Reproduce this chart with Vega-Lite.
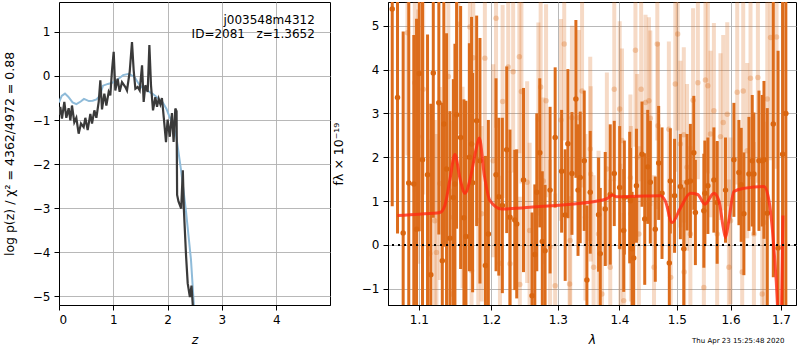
{
"$schema": "https://vega.github.io/schema/vega-lite/v6.json",
"background": "white",
"padding": {"left": 2, "top": 1, "right": 1, "bottom": 2},
"spacing": 58,
"bounds": "flush",
"config": {
 "view": {"stroke": "black", "strokeWidth": 1},
 "font": "DejaVu Sans",
 "axis": {"domainColor": "black", "tickColor": "black", "tickSize": 5, "labelPadding": 4, "labelFont": "DejaVu Sans", "labelFontSize": 12, "labelColor": "black", "titleFont": "DejaVu Sans", "titleFontSize": 12.5, "titleFontWeight": "normal", "titleColor": "black", "gridColor": "#b0b0b0", "gridWidth": 0.9, "grid": true}
},
"datasets": {
 "pz": [
  {"z":0.000,"logp":-0.88},{"z":0.024,"logp":-0.70},{"z":0.055,"logp":-0.97},{"z":0.098,"logp":-0.59},{"z":0.135,"logp":-0.95},{"z":0.178,"logp":-0.73},{"z":0.209,"logp":-1.01},{"z":0.239,"logp":-0.67},{"z":0.282,"logp":-1.05},{"z":0.319,"logp":-0.95},{"z":0.362,"logp":-1.31},{"z":0.405,"logp":-1.08},{"z":0.454,"logp":-1.16},{"z":0.485,"logp":-0.95},{"z":0.528,"logp":-1.23},{"z":0.577,"logp":-0.86},{"z":0.608,"logp":-1.08},{"z":0.651,"logp":-0.78},{"z":0.688,"logp":-0.95},{"z":0.731,"logp":-0.59},{"z":0.761,"logp":-0.10},{"z":0.792,"logp":-0.76},{"z":0.835,"logp":-0.40},{"z":0.872,"logp":-0.67},{"z":0.915,"logp":-0.36},{"z":0.945,"logp":-0.44},{"z":0.976,"logp":0.13},{"z":1.007,"logp":0.55},{"z":1.037,"logp":-0.33},{"z":1.080,"logp":-0.06},{"z":1.117,"logp":-0.36},{"z":1.160,"logp":-0.14},{"z":1.222,"logp":-0.25},{"z":1.252,"logp":-0.33},{"z":1.302,"logp":0.10},{"z":1.344,"logp":0.77},{"z":1.375,"logp":0.13},{"z":1.406,"logp":-0.29},{"z":1.449,"logp":-0.25},{"z":1.486,"logp":-0.33},{"z":1.529,"logp":0.24},{"z":1.559,"logp":-0.59},{"z":1.590,"logp":-0.21},{"z":1.633,"logp":-0.36},{"z":1.664,"logp":0.70},{"z":1.694,"logp":-0.21},{"z":1.731,"logp":-0.78},{"z":1.774,"logp":-0.48},{"z":1.805,"logp":-0.70},{"z":1.836,"logp":-0.52},{"z":1.866,"logp":-0.64},{"z":1.895,"logp":-0.50},{"z":1.930,"logp":-0.95},{"z":1.970,"logp":-1.50},{"z":2.000,"logp":-0.99},{"z":2.040,"logp":-1.38},{"z":2.080,"logp":-0.84},{"z":2.110,"logp":-1.50},{"z":2.142,"logp":-0.74},{"z":2.165,"logp":-0.80},{"z":2.175,"logp":-2.70},{"z":2.200,"logp":-2.85},{"z":2.250,"logp":-3.01},{"z":2.280,"logp":-2.14},{"z":2.300,"logp":-3.05},{"z":2.340,"logp":-4.09},{"z":2.370,"logp":-4.71},{"z":2.410,"logp":-5.02},{"z":2.440,"logp":-4.76},{"z":2.470,"logp":-5.33},{"z":2.520,"logp":-6.20}
 ],
 "pz_smooth": [
  {"z":0.00,"logp":-0.60},{"z":0.05,"logp":-0.45},{"z":0.11,"logp":-0.40},{"z":0.17,"logp":-0.47},{"z":0.25,"logp":-0.60},{"z":0.32,"logp":-0.64},{"z":0.40,"logp":-0.58},{"z":0.46,"logp":-0.52},{"z":0.55,"logp":-0.57},{"z":0.62,"logp":-0.56},{"z":0.69,"logp":-0.53},{"z":0.75,"logp":-0.45},{"z":0.81,"logp":-0.22},{"z":0.90,"logp":-0.18},{"z":0.97,"logp":-0.16},{"z":1.08,"logp":-0.08},{"z":1.18,"logp":0.02},{"z":1.29,"logp":0.05},{"z":1.39,"logp":-0.02},{"z":1.47,"logp":-0.18},{"z":1.55,"logp":-0.29},{"z":1.65,"logp":-0.35},{"z":1.73,"logp":-0.41},{"z":1.82,"logp":-0.50},{"z":1.91,"logp":-0.60},{"z":1.98,"logp":-0.75},{"z":2.03,"logp":-0.91},{"z":2.10,"logp":-1.10},{"z":2.16,"logp":-1.38},{"z":2.25,"logp":-2.16},{"z":2.34,"logp":-3.09},{"z":2.43,"logp":-4.17},{"z":2.49,"logp":-5.33},{"z":2.52,"logp":-5.70}
 ],
 "dark": [
  {"w":1.0654,"f":5.38,"e":4.5},{"w":1.0722,"f":3.36,"e":3.1},{"w":1.0795,"f":0.27,"e":4.6},{"w":1.0868,"f":1.41,"e":4.2},{"w":1.0934,"f":1.39,"e":3.4},{"w":1.0970,"f":0.36,"e":4.8},{"w":1.1005,"f":3.91,"e":3.6},{"w":1.1049,"f":1.94,"e":4.0},{"w":1.1116,"f":1.60,"e":3.2},{"w":1.1160,"f":-0.68,"e":3.9},{"w":1.1193,"f":3.92,"e":3.3},{"w":1.1268,"f":3.24,"e":3.0},{"w":1.1315,"f":-0.36,"e":3.6},{"w":1.1336,"f":2.76,"e":2.8},{"w":1.1373,"f":1.73,"e":3.1},{"w":1.1419,"f":0.15,"e":2.9},{"w":1.1466,"f":1.08,"e":2.7},{"w":1.1488,"f":1.39,"e":3.2},{"w":1.1511,"f":2.97,"e":2.6},{"w":1.1567,"f":2.45,"e":3.0},{"w":1.1613,"f":0.62,"e":2.7},{"w":1.1641,"f":0.19,"e":3.1},{"w":1.1689,"f":2.00,"e":2.6},{"w":1.1720,"f":2.30,"e":2.9},{"w":1.1735,"f":1.42,"e":2.5},{"w":1.1792,"f":2.83,"e":2.4},{"w":1.1839,"f":1.92,"e":2.8},{"w":1.1917,"f":-0.47,"e":2.5},{"w":1.1959,"f":0.25,"e":2.6},{"w":1.2070,"f":1.60,"e":2.2},{"w":1.2110,"f":1.10,"e":1.8},{"w":1.2162,"f":0.90,"e":2.0},{"w":1.2226,"f":2.17,"e":1.9},{"w":1.2274,"f":0.63,"e":2.0},{"w":1.2345,"f":0.57,"e":1.6},{"w":1.2374,"f":0.48,"e":1.7},{"w":1.2475,"f":1.48,"e":2.1},{"w":1.2604,"f":-1.16,"e":1.9},{"w":1.2646,"f":-0.22,"e":1.6},{"w":1.2676,"f":1.20,"e":1.8},{"w":1.2722,"f":2.10,"e":1.7},{"w":1.2760,"f":0.08,"e":1.6},{"w":1.2803,"f":-0.13,"e":1.5},{"w":1.2880,"f":1.25,"e":1.9},{"w":1.2959,"f":2.45,"e":1.6},{"w":1.3060,"f":1.68,"e":1.4},{"w":1.3116,"f":0.68,"e":1.5},{"w":1.3159,"f":2.31,"e":1.7},{"w":1.3223,"f":1.63,"e":1.4},{"w":1.3286,"f":3.33,"e":1.8},{"w":1.3320,"f":1.25,"e":1.5},{"w":1.3355,"f":1.54,"e":1.5},{"w":1.3420,"f":1.92,"e":1.6},{"w":1.3463,"f":-0.80,"e":1.7},{"w":1.3517,"f":1.20,"e":1.4},{"w":1.3653,"f":0.69,"e":1.3},{"w":1.3681,"f":-0.20,"e":1.5},{"w":1.3763,"f":0.82,"e":1.3},{"w":1.3846,"f":1.15,"e":1.6},{"w":1.3913,"f":1.63,"e":1.2},{"w":1.4004,"f":1.31,"e":1.4},{"w":1.4072,"f":0.33,"e":1.4},{"w":1.4083,"f":1.08,"e":1.3},{"w":1.4174,"f":1.08,"e":1.5},{"w":1.4186,"f":1.01,"e":1.2},{"w":1.4214,"f":-0.09,"e":1.3},{"w":1.4242,"f":-0.30,"e":1.4},{"w":1.4289,"f":1.35,"e":1.3},{"w":1.4385,"f":2.07,"e":1.2},{"w":1.4432,"f":0.59,"e":1.5},{"w":1.4484,"f":1.78,"e":1.3},{"w":1.4529,"f":1.43,"e":1.4},{"w":1.4616,"f":0.36,"e":1.2},{"w":1.4676,"f":1.87,"e":1.3},{"w":1.4735,"f":1.18,"e":1.5},{"w":1.4865,"f":-0.41,"e":1.3},{"w":1.4883,"f":1.46,"e":1.2},{"w":1.4959,"f":1.12,"e":1.3},{"w":1.5064,"f":1.33,"e":1.2},{"w":1.5126,"f":-0.09,"e":1.4},{"w":1.5185,"f":1.43,"e":1.1},{"w":1.5246,"f":1.46,"e":1.3},{"w":1.5309,"f":2.10,"e":1.3},{"w":1.5338,"f":0.74,"e":1.2},{"w":1.5495,"f":0.78,"e":1.3},{"w":1.5514,"f":1.18,"e":1.2},{"w":1.5570,"f":1.35,"e":1.1},{"w":1.5683,"f":1.48,"e":1.2},{"w":1.5745,"f":0.97,"e":1.4},{"w":1.5904,"f":1.25,"e":1.2},{"w":1.6065,"f":1.94,"e":1.3},{"w":1.6162,"f":1.65,"e":1.2},{"w":1.6207,"f":1.37,"e":1.3},{"w":1.6259,"f":0.71,"e":1.4},{"w":1.6358,"f":1.62,"e":1.3},{"w":1.6423,"f":1.92,"e":1.5},{"w":1.6456,"f":1.62,"e":1.4},{"w":1.6556,"f":1.92,"e":1.6},{"w":1.6621,"f":1.92,"e":1.5},{"w":1.6656,"f":1.94,"e":1.8},{"w":1.6723,"f":0.72,"e":2.4},{"w":1.6844,"f":2.76,"e":3.5},{"w":1.6941,"f":-0.07,"e":4.5},{"w":1.7034,"f":2.07,"e":4.0},{"w":1.7100,"f":3.00,"e":5.0}
 ],
 "light": [
  {"w":1.0851,"f":4.84,"e":2.8},{"w":1.0947,"f":3.70,"e":2.5},{"w":1.0992,"f":2.47,"e":2.9},{"w":1.1058,"f":3.55,"e":2.4},{"w":1.1146,"f":-0.20,"e":2.6},{"w":1.1213,"f":0.55,"e":2.3},{"w":1.1236,"f":-0.17,"e":2.7},{"w":1.1282,"f":1.40,"e":2.2},{"w":1.1397,"f":3.84,"e":2.6},{"w":1.1442,"f":-1.12,"e":2.4},{"w":1.1466,"f":0.63,"e":2.2},{"w":1.1535,"f":5.03,"e":2.5},{"w":1.1594,"f":1.31,"e":2.3},{"w":1.1696,"f":4.97,"e":2.6},{"w":1.1720,"f":-0.59,"e":2.1},{"w":1.1744,"f":4.27,"e":2.4},{"w":1.1815,"f":0.55,"e":2.2},{"w":1.1862,"f":0.71,"e":2.0},{"w":1.1909,"f":4.26,"e":2.3},{"w":1.2029,"f":1.92,"e":2.2},{"w":1.2070,"f":5.17,"e":2.5},{"w":1.2127,"f":-0.42,"e":2.0},{"w":1.2166,"f":3.27,"e":2.2},{"w":1.2248,"f":4.06,"e":2.4},{"w":1.2274,"f":-0.43,"e":2.1},{"w":1.2321,"f":3.95,"e":2.3},{"w":1.2413,"f":4.29,"e":2.2},{"w":1.2420,"f":-0.90,"e":2.0},{"w":1.2444,"f":3.50,"e":2.1},{"w":1.2530,"f":1.43,"e":2.3},{"w":1.2567,"f":0.33,"e":2.0},{"w":1.2700,"f":2.87,"e":2.2},{"w":1.2735,"f":3.60,"e":2.1},{"w":1.2776,"f":1.46,"e":1.9},{"w":1.2818,"f":3.29,"e":2.2},{"w":1.2880,"f":-0.05,"e":2.0},{"w":1.2959,"f":-0.93,"e":2.1},{"w":1.3049,"f":2.85,"e":2.3},{"w":1.3101,"f":4.58,"e":2.2},{"w":1.3186,"f":-0.89,"e":2.0},{"w":1.3196,"f":0.10,"e":1.9},{"w":1.3223,"f":2.90,"e":2.1},{"w":1.3332,"f":2.90,"e":2.0},{"w":1.3385,"f":3.51,"e":2.2},{"w":1.3439,"f":0.63,"e":1.9},{"w":1.3517,"f":2.19,"e":2.1},{"w":1.3525,"f":1.62,"e":2.0},{"w":1.3572,"f":-0.51,"e":2.1},{"w":1.3653,"f":0.25,"e":1.9},{"w":1.3708,"f":-1.12,"e":2.0},{"w":1.3790,"f":1.73,"e":2.2},{"w":1.3846,"f":-0.51,"e":2.0},{"w":1.3913,"f":3.55,"e":2.1},{"w":1.4004,"f":3.10,"e":2.0},{"w":1.4015,"f":-0.05,"e":1.9},{"w":1.4043,"f":2.38,"e":2.1},{"w":1.4072,"f":-1.27,"e":2.0},{"w":1.4186,"f":1.53,"e":1.9},{"w":1.4195,"f":0.71,"e":2.0},{"w":1.4272,"f":4.44,"e":2.2},{"w":1.4301,"f":2.00,"e":1.9},{"w":1.4331,"f":0.25,"e":2.0},{"w":1.4370,"f":3.55,"e":2.1},{"w":1.4446,"f":3.25,"e":2.0},{"w":1.4505,"f":3.29,"e":1.9},{"w":1.4529,"f":2.89,"e":2.0},{"w":1.4594,"f":-0.51,"e":2.1},{"w":1.4652,"f":4.58,"e":2.2},{"w":1.4664,"f":2.72,"e":1.9},{"w":1.4857,"f":2.64,"e":2.0},{"w":1.4890,"f":-0.74,"e":2.1},{"w":1.4972,"f":3.67,"e":2.0},{"w":1.5015,"f":4.81,"e":2.2},{"w":1.5064,"f":2.30,"e":1.9},{"w":1.5126,"f":2.51,"e":2.0},{"w":1.5132,"f":-0.62,"e":2.1},{"w":1.5185,"f":1.77,"e":1.9},{"w":1.5246,"f":0.25,"e":2.0},{"w":1.5296,"f":3.30,"e":2.1},{"w":1.5384,"f":3.70,"e":2.2},{"w":1.5495,"f":-0.97,"e":2.0},{"w":1.5525,"f":3.76,"e":2.1},{"w":1.5570,"f":3.63,"e":2.0},{"w":1.5619,"f":2.53,"e":1.9},{"w":1.5683,"f":3.06,"e":2.0},{"w":1.5745,"f":0.25,"e":2.1},{"w":1.5808,"f":2.47,"e":1.9},{"w":1.5860,"f":2.79,"e":2.0},{"w":1.5937,"f":2.98,"e":2.1},{"w":1.5969,"f":-0.51,"e":2.0},{"w":1.6000,"f":0.55,"e":1.9},{"w":1.6129,"f":3.48,"e":2.1},{"w":1.6226,"f":-0.62,"e":2.0},{"w":1.6246,"f":3.51,"e":2.2},{"w":1.6324,"f":2.15,"e":2.0},{"w":1.6389,"f":3.80,"e":2.3},{"w":1.6456,"f":0.25,"e":2.1},{"w":1.6535,"f":3.82,"e":2.4},{"w":1.6621,"f":-1.12,"e":2.2},{"w":1.6656,"f":0.51,"e":2.3},{"w":1.6723,"f":3.33,"e":2.6},{"w":1.6789,"f":4.73,"e":2.8},{"w":1.6910,"f":4.74,"e":3.0}
 ],
 "model": [
  {"w":1.0722,"m":0.67},{"w":1.1000,"m":0.70},{"w":1.1282,"m":0.74},{"w":1.1350,"m":0.90},{"w":1.1420,"m":1.50},{"w":1.1488,"m":2.06},{"w":1.1560,"m":1.50},{"w":1.1627,"m":1.18},{"w":1.1700,"m":1.50},{"w":1.1780,"m":2.15},{"w":1.1830,"m":2.44},{"w":1.1900,"m":1.60},{"w":1.1982,"m":1.01},{"w":1.2152,"m":0.82},{"w":1.2676,"m":0.87},{"w":1.3200,"m":0.93},{"w":1.3737,"m":1.03},{"w":1.3820,"m":1.08},{"w":1.3875,"m":1.14},{"w":1.3950,"m":1.10},{"w":1.4300,"m":1.11},{"w":1.4706,"m":1.12},{"w":1.4794,"m":1.00},{"w":1.4914,"m":0.51},{"w":1.5064,"m":0.84},{"w":1.5246,"m":1.18},{"w":1.5380,"m":1.15},{"w":1.5514,"m":0.93},{"w":1.5683,"m":1.18},{"w":1.5780,"m":1.00},{"w":1.5860,"m":0.40},{"w":1.5904,"m":0.17},{"w":1.5960,"m":0.50},{"w":1.6065,"m":1.22},{"w":1.6250,"m":1.29},{"w":1.6656,"m":1.33},{"w":1.6758,"m":1.00},{"w":1.6860,"m":-0.13},{"w":1.6927,"m":-1.34},{"w":1.6970,"m":-2.80},{"w":1.7010,"m":-1.50},{"w":1.7040,"m":0.67}
 ]
},
"hconcat": [
 {
  "width": 271, "height": 303,
  "layer": [
   {"data": {"name": "pz_smooth"},
    "mark": {"type": "line", "color": "#8fbbd9", "strokeWidth": 2, "clip": true},
    "encoding": {
     "x": {"field": "z", "type": "quantitative", "scale": {"domain": [0, 4.99], "nice": false, "zero": false}, "axis": {"values": [0,1,2,3,4], "title": "z", "titleFontStyle": "italic", "titlePadding": 8}},
     "y": {"field": "logp", "type": "quantitative", "scale": {"domain": [-5.2, 1.68], "nice": false, "zero": false}, "axis": {"values": [-5,-4,-3,-2,-1,0,1], "title": "log p(z) / χ² = 4362/4972 = 0.88", "titlePadding": 16}}
    }},
   {"data": {"name": "pz"},
    "mark": {"type": "line", "color": "#3a3a3a", "strokeWidth": 2.2, "clip": true},
    "encoding": {"x": {"field": "z", "type": "quantitative"}, "y": {"field": "logp", "type": "quantitative"}}},
   {"data": {"values": [{}]},
    "mark": {"type": "text", "align": "right", "baseline": "top", "fontSize": 12, "lineHeight": 14, "font": "DejaVu Sans", "color": "black"},
    "encoding": {"x": {"datum": 4.71}, "y": {"datum": 1.38}, "text": {"value": ["j003548m4312", "ID=2081\u00a0\u00a0\u00a0z=1.3652"]}}}
  ]
 },
 {
  "width": 408, "height": 303,
  "layer": [
   {"data": {"name": "light"},
    "mark": {"type": "errorbar", "color": "#dc6c1b", "opacity": 0.25, "thickness": 4, "clip": true},
    "encoding": {
     "x": {"field": "w", "type": "quantitative", "title": "λ", "scale": {"type": "log", "domain": [1.06, 1.731], "nice": false, "zero": false}, "axis": {"values": [1.1,1.2,1.3,1.4,1.5,1.6,1.7], "format": ".1f", "titleFontStyle": "italic", "titlePadding": 8}},
     "y": {"field": "f", "type": "quantitative", "title": "fλ × 10⁻¹⁹", "scale": {"domain": [-1.37, 5.54], "nice": false, "zero": false}, "axis": {"values": [-1,0,1,2,3,4,5], "titlePadding": 16}},
     "yError": {"field": "e"}
    }},
   {"data": {"name": "light"},
    "mark": {"type": "circle", "color": "#dc6c1b", "opacity": 0.3, "size": 30, "clip": true},
    "encoding": {"x": {"field": "w", "type": "quantitative", "title": "λ"}, "y": {"field": "f", "type": "quantitative", "title": "fλ × 10⁻¹⁹"}}},
   {"data": {"name": "dark"},
    "mark": {"type": "errorbar", "color": "#dc6c1b", "opacity": 1, "thickness": 3, "clip": true},
    "encoding": {"x": {"field": "w", "type": "quantitative", "title": "λ"}, "y": {"field": "f", "type": "quantitative", "title": "fλ × 10⁻¹⁹"}, "yError": {"field": "e"}}},
   {"data": {"name": "dark"},
    "mark": {"type": "circle", "color": "#d9650f", "opacity": 1, "size": 30, "clip": true},
    "encoding": {"x": {"field": "w", "type": "quantitative", "title": "λ"}, "y": {"field": "f", "type": "quantitative", "title": "fλ × 10⁻¹⁹"}}},
   {"data": {"name": "model"},
    "mark": {"type": "line", "color": "#ff2a12", "opacity": 0.8, "strokeWidth": 3, "interpolate": "monotone", "clip": true},
    "encoding": {"x": {"field": "w", "type": "quantitative", "title": "λ"}, "y": {"field": "m", "type": "quantitative", "title": "fλ × 10⁻¹⁹"}}},
   {"data": {"values": [{}]},
    "mark": {"type": "rule", "color": "black", "strokeWidth": 2, "strokeDash": [2, 4]},
    "encoding": {"y": {"datum": 0, "title": "fλ × 10⁻¹⁹"}}},
   {"data": {"values": [{}]},
    "mark": {"type": "text", "align": "right", "baseline": "middle", "fontSize": 7, "font": "DejaVu Sans", "color": "black"},
    "encoding": {"x": {"datum": 1.707, "title": "λ"}, "y": {"datum": -2.2, "title": "fλ × 10⁻¹⁹"}, "text": {"value": "Thu Apr 23 15:25:48 2020"}}}
  ]
 }
]
}
